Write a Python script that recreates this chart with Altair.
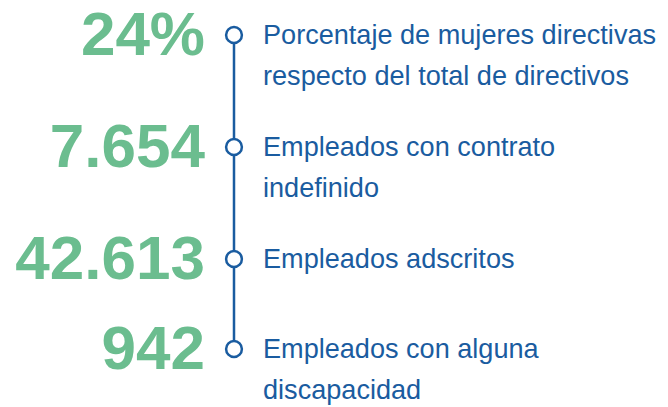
import altair as alt
import pandas as pd

# Data
values = ["24%", "7.654", "42.613", "942"]
labels = [
    "Porcentaje de mujeres directivas\nrespecto del total de directivos",
    "Empleados con contrato\nindefinido",
    "Empleados adscritos",
    "Empleados con alguna\ndiscapacidad",
]

GREEN = "#6bbd8f"
BLUE = "#1a5ca0"

# Layout: each row's vertical offset grows with the number of text lines of the row above
lines = [lab.count("\n") + 1 for lab in labels]
pos = []
y = 27.0
for i, n in enumerate(lines):
    pos.append(y)
    y += 68 + 22 * n

df = pd.DataFrame({"value": values, "label": labels, "pos": pos})

W, H = 652, 399
yscale = alt.Scale(domain=[0, H], reverse=True)
Y = alt.Y("pos:Q", scale=yscale, axis=None)

base = alt.Chart(df)

line = base.transform_aggregate(
    top="min(pos)", bot="max(pos)"
).mark_rule(color=BLUE, strokeWidth=2.5).encode(
    x=alt.value(226),
    y=alt.Y("top:Q", scale=yscale, axis=None),
    y2="bot:Q",
)

circles = base.mark_point(
    shape="circle", filled=True, fill="white", stroke=BLUE, strokeWidth=2.5,
    size=250, opacity=1,
).encode(x=alt.value(226), y=Y)

nums = base.mark_text(
    align="right", baseline="alphabetic", dy=20, font="Liberation Sans",
    fontWeight="bold", fontSize=62, color=GREEN,
).encode(x=alt.value(197), y=Y, text="value:N")

texts = base.mark_text(
    align="left", baseline="alphabetic", dy=9, font="Liberation Sans",
    fontSize=27.1, color=BLUE, lineBreak="\n", lineHeight=41,
).encode(x=alt.value(255), y=Y, text="label:N")

chart = alt.layer(line, circles, nums, texts).properties(
    width=W, height=H, padding=0, autosize=alt.AutoSizeParams(type="none")
).configure_view(stroke=None)

chart.save("out.html", embed_options={"renderer": "svg", "actions": False})
